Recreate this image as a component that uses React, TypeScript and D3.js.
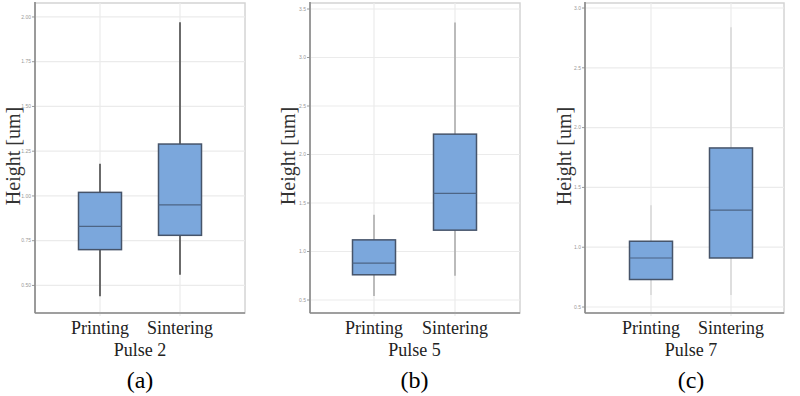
import React, { useRef, useEffect } from 'react';
import * as d3 from 'd3';

const { select, scaleLinear, scalePoint } = d3;

// categories and labels
const categories = ['Printing', 'Sintering'];
const pulseLabels = ['Pulse 2', 'Pulse 5', 'Pulse 7'];
const panelTags = ['(a)', '(b)', '(c)'];

// box stats per category: [min, q1, median, q3, max]
const pulse2Stats = [
  [0.44, 0.70, 0.83, 1.02, 1.18],
  [0.56, 0.78, 0.95, 1.29, 1.97],
];
const pulse5Stats = [
  [0.54, 0.76, 0.88, 1.12, 1.38],
  [0.75, 1.22, 1.60, 2.21, 3.36],
];
const pulse7Stats = [
  [0.6, 0.73, 0.91, 1.05, 1.35],
  [0.6, 0.91, 1.31, 1.83, 2.84],
];

// y tick values / labels
const pulse2Ticks = [0.5, 0.75, 1.0, 1.25, 1.5, 1.75, 2.0];
const pulse2TickLabels = ['0.50', '0.75', '1.00', '1.25', '1.50', '1.75', '2.00'];
const pulse5Ticks = [0.5, 1.0, 1.5, 2.0, 2.5, 3.0, 3.5];
const pulse5TickLabels = ['0.5', '1.0', '1.5', '2.0', '2.5', '3.0', '3.5'];
const pulse7Ticks = [0.5, 1.0, 1.5, 2.0, 2.5, 3.0];
const pulse7TickLabels = ['0.5', '1.0', '1.5', '2.0', '2.5', '3.0'];

// layout (pixels) per panel
const layout = [
  { left: 35, right: 245, c1: 100, c2: 180, yDomain: [0.346, 2.078], titleX: 13, whisker: '#6b6b6b', whiskerW: 2 },
  { left: 310, right: 520, c1: 374, c2: 455, yDomain: [0.366, 3.562], titleX: 288, whisker: '#a8a8a8', whiskerW: 1.5 },
  { left: 585, right: 784, c1: 651, c2: 731, yDomain: [0.45, 3.042], titleX: 564, whisker: '#d0d0d0', whiskerW: 1.2 },
];

const statsList = [pulse2Stats, pulse5Stats, pulse7Stats];
const ticksList = [pulse2Ticks, pulse5Ticks, pulse7Ticks];
const tickLabelsList = [pulse2TickLabels, pulse5TickLabels, pulse7TickLabels];

const W = 800;
const H = 396;
const TOP = 3;
const BOTTOM = 313;
const BOX_W = 43;
const SERIF = '"Liberation Serif", "DejaVu Serif", serif';

export default function App() {
  const ref = useRef<SVGSVGElement>(null);

  useEffect(() => {
    if (!ref.current) return;
    const svg = select(ref.current);
    svg.selectAll('*').remove();

    layout.forEach((L, i) => {
      const g = svg.append('g');
      const y = scaleLinear().domain(L.yDomain).range([BOTTOM, TOP]);
      const x = scalePoint<string>().domain(categories).range([L.c1, L.c2]);

      // panel background
      g.append('rect')
        .attr('x', L.left).attr('y', TOP)
        .attr('width', L.right - L.left).attr('height', BOTTOM - TOP)
        .attr('fill', '#fff').attr('stroke', '#d4d4d4').attr('stroke-width', 1.5);

      // horizontal grid + ticks
      ticksList[i].forEach((t, k) => {
        const yy = y(t);
        g.append('line')
          .attr('x1', L.left).attr('x2', L.right)
          .attr('y1', yy).attr('y2', yy)
          .attr('stroke', '#ebebeb').attr('stroke-width', 1.2);
        g.append('line')
          .attr('x1', L.left - 3).attr('x2', L.left)
          .attr('y1', yy).attr('y2', yy)
          .attr('stroke', '#999').attr('stroke-width', 1);
        g.append('text')
          .attr('x', L.left - 4).attr('y', yy)
          .attr('dy', '0.35em')
          .attr('text-anchor', 'end')
          .attr('font-family', 'Arial, sans-serif')
          .attr('font-size', 5)
          .attr('fill', '#999')
          .text(tickLabelsList[i][k]);
      });

      // vertical grid at categories
      categories.forEach(c => {
        g.append('line')
          .attr('x1', x(c)!).attr('x2', x(c)!)
          .attr('y1', TOP).attr('y2', BOTTOM + 3)
          .attr('stroke', '#ebebeb').attr('stroke-width', 1.2);
      });

      // boxes
      categories.forEach((c, ci) => {
        const [mn, q1, md, q3, mx] = statsList[i][ci];
        const cx = x(c)!;
        g.append('line')
          .attr('x1', cx).attr('x2', cx)
          .attr('y1', y(mx)).attr('y2', y(mn))
          .attr('stroke', L.whisker).attr('stroke-width', L.whiskerW);
        g.append('rect')
          .attr('x', cx - BOX_W / 2).attr('y', y(q3))
          .attr('width', BOX_W).attr('height', y(q1) - y(q3))
          .attr('fill', '#7ba7dc')
          .attr('stroke', '#46546a').attr('stroke-width', 1.5);
        g.append('line')
          .attr('x1', cx - BOX_W / 2).attr('x2', cx + BOX_W / 2)
          .attr('y1', y(md)).attr('y2', y(md))
          .attr('stroke', '#4d6585').attr('stroke-width', 1.2);
      });

      // axes lines (left + bottom)
      g.append('line')
        .attr('x1', L.left).attr('x2', L.left)
        .attr('y1', TOP - 1).attr('y2', BOTTOM)
        .attr('stroke', '#8a8a8a').attr('stroke-width', 1.6);
      g.append('line')
        .attr('x1', L.left).attr('x2', L.right)
        .attr('y1', BOTTOM).attr('y2', BOTTOM)
        .attr('stroke', '#8a8a8a').attr('stroke-width', 1.6);

      // category labels
      categories.forEach(c => {
        g.append('text')
          .attr('x', x(c)!).attr('y', 334)
          .attr('text-anchor', 'middle')
          .attr('font-family', SERIF)
          .attr('font-size', 18)
          .attr('fill', '#222')
          .text(c);
      });

      const mid = (L.c1 + L.c2) / 2;
      g.append('text')
        .attr('x', mid).attr('y', 356)
        .attr('text-anchor', 'middle')
        .attr('font-family', SERIF)
        .attr('font-size', 18)
        .attr('fill', '#222')
        .text(pulseLabels[i]);

      g.append('text')
        .attr('x', mid).attr('y', 388)
        .attr('text-anchor', 'middle')
        .attr('font-family', SERIF)
        .attr('font-size', 24)
        .attr('fill', '#000')
        .text(panelTags[i]);

      // y title
      g.append('text')
        .attr('transform', `translate(${L.titleX},156) rotate(-90)`)
        .attr('dy', '0.35em')
        .attr('text-anchor', 'middle')
        .attr('font-family', SERIF)
        .attr('font-size', 20)
        .attr('fill', '#333')
        .text('Height [um]');
    });
  }, []);

  return (
    <svg
      ref={ref}
      width={W}
      height={H}
      style={{ position: 'absolute', left: 0, top: 0, background: '#fff' }}
    />
  );
}
